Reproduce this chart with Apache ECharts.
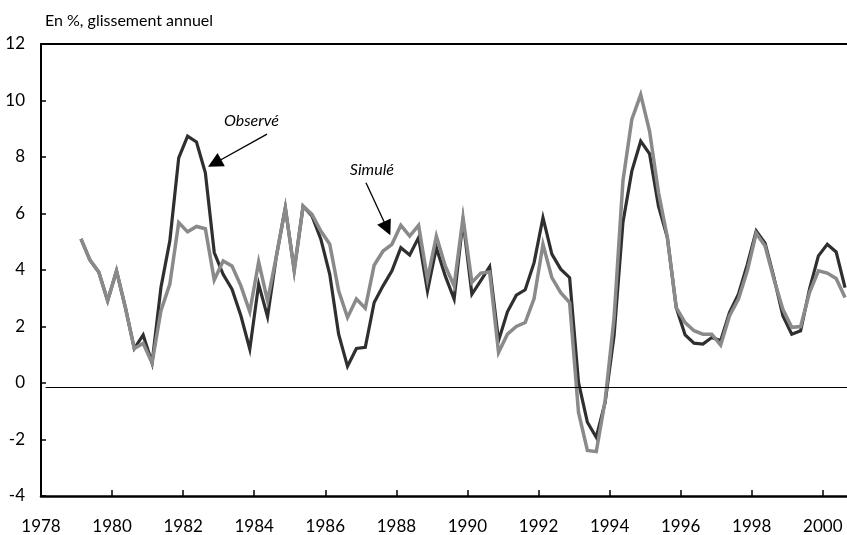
<!DOCTYPE html>
<html>
<head>
<meta charset="utf-8">
<script src="https://cdn.jsdelivr.net/npm/echarts@6/dist/echarts.min.js"></script>
<style>
  html, body { margin: 0; padding: 0; background: #fff; }
  #chart { width: 847px; height: 535px; }
</style>
</head>
<body>
<div id="chart"></div>
<script>
// Quarterly series, 1979 T1 .. 2000 T3 (each point plotted at mid-quarter)
const firstYear = 1979;
const quarterCount = 87;
const yTicks = [-4, -2, 0, 2, 4, 6, 8, 10, 12];
const xTickYears = [1978, 1980, 1982, 1984, 1986, 1988, 1990, 1992, 1994, 1996, 1998, 2000];
const unitLabel = 'En %, glissement annuel';
const seriesNames = ['Observé', 'Simulé'];
const referenceLevel = -0.15;

const observe = [
  5.10, 4.36, 3.93, 2.91, 3.97, 2.67, 1.22, 1.70, 0.71, 3.38,
  5.03, 7.97, 8.74, 8.53, 7.44, 4.62, 3.85, 3.32, 2.38, 1.20,
  3.50, 2.35, 4.50, 6.20, 4.00, 6.26, 5.91, 5.09, 3.85, 1.73,
  0.59, 1.22, 1.26, 2.85, 3.44, 3.97, 4.79, 4.53, 5.15, 3.26,
  4.79, 3.79, 2.97, 5.75, 3.14, 3.62, 4.12, 1.50, 2.52, 3.11,
  3.30, 4.26, 5.85, 4.56, 4.03, 3.73, 0.02, -1.39, -1.92, -0.68,
  1.67, 5.68, 7.50, 8.56, 8.11, 6.26, 5.15, 2.67, 1.70, 1.41,
  1.38, 1.61, 1.50, 2.50, 3.14, 4.20, 5.38, 4.95, 3.73, 2.38,
  1.73, 1.85, 3.32, 4.50, 4.91, 4.64, 3.38
];
const simule = [
  5.10, 4.36, 3.93, 2.91, 3.97, 2.67, 1.22, 1.41, 0.71, 2.56,
  3.50, 5.68, 5.35, 5.54, 5.46, 3.65, 4.32, 4.14, 3.44, 2.52,
  4.29, 2.91, 4.50, 6.21, 3.97, 6.26, 5.97, 5.38, 4.91, 3.26,
  2.32, 2.97, 2.65, 4.17, 4.67, 4.91, 5.58, 5.20, 5.58, 3.67,
  5.20, 4.14, 3.44, 5.85, 3.56, 3.89, 3.93, 1.08, 1.73, 2.00,
  2.14, 2.99, 4.91, 3.73, 3.20, 2.85, -1.04, -2.39, -2.43, -0.62,
  2.30, 7.15, 9.33, 10.21, 8.91, 6.75, 5.15, 2.67, 2.14, 1.85,
  1.73, 1.73, 1.34, 2.38, 2.97, 3.97, 5.30, 4.85, 3.67, 2.61,
  1.97, 2.00, 3.20, 3.97, 3.89, 3.70, 3.03
];

// time coordinate of each quarter (mid-quarter)
const quarterTime = [];
for (let i = 0; i < quarterCount; i++) quarterTime.push(firstYear + 0.125 + i * 0.25);

const pair = (vals) => vals.map((v, i) => [quarterTime[i], v]);

const FONT = 'Lato, "Open Sans", sans-serif';
const xMin = xTickYears[0];
const xMax = 2000.68;

const chart = echarts.init(document.getElementById('chart'), null, { renderer: 'canvas' });
chart.setOption({
  animation: false,
  backgroundColor: '#fff',
  title: {
    text: unitLabel,
    left: 40, top: 8,
    textStyle: { fontFamily: FONT, fontSize: 16, fontWeight: 'normal', color: '#000' }
  },
  grid: { left: 41, right: 0, top: 44, bottom: 38, containLabel: false },
  xAxis: [{
    type: 'value',
    min: xMin, max: xMax, interval: 2,
    splitLine: { show: false },
    axisLine: { show: true, onZero: false, lineStyle: { color: '#000', width: 2.5 } },
    axisTick: { show: true, inside: true, length: 6, lineStyle: { color: '#000', width: 1.5 } },
    axisLabel: {
      showMaxLabel: false,
      margin: 22,
      fontFamily: FONT, fontSize: 17, color: '#000',
      formatter: (v) => (xTickYears.indexOf(v) >= 0 ? String(v) : '')
    }
  }, {
    type: 'value', position: 'top',
    min: xMin, max: xMax,
    splitLine: { show: false },
    axisLine: { show: true, onZero: false, lineStyle: { color: '#000', width: 2 } },
    axisTick: { show: false }, axisLabel: { show: false }
  }],
  yAxis: {
    type: 'value',
    min: yTicks[0], max: yTicks[yTicks.length - 1], interval: 2,
    splitLine: { show: false },
    axisLine: { show: true, onZero: false, lineStyle: { color: '#000', width: 2 } },
    axisTick: { show: true, inside: true, length: 5, lineStyle: { color: '#000', width: 1.5 } },
    axisLabel: { margin: 16, fontFamily: FONT, fontSize: 17, color: '#000' }
  },
  series: [
    {
      name: seriesNames[0], type: 'line', data: pair(observe),
      showSymbol: false, symbol: 'none', z: 2,
      lineStyle: { color: '#2f2f2f', width: 3.2, join: 'miter' },
      markLine: {
        silent: true, symbol: 'none', animation: false,
        label: { show: false },
        lineStyle: { color: '#000', width: 1.2, type: 'solid' },
        data: [[{ coord: [1978.13, referenceLevel] }, { coord: [xMax, referenceLevel] }]]
      }
    },
    {
      name: seriesNames[1], type: 'line', data: pair(simule),
      showSymbol: false, symbol: 'none', z: 3,
      lineStyle: { color: '#8a8a8a', width: 3.5, join: 'miter' }
    },
    {
      name: 'annotations', type: 'line', data: [], z: 5,
      markLine: {
        silent: true, animation: false,
        symbol: ['none', 'triangle'], symbolSize: 15,
        label: { show: false },
        lineStyle: { color: '#000', width: 1.3, type: 'solid' },
        itemStyle: { color: '#000' },
        data: [
          [{ coord: [1984.36, 8.81] }, { coord: [1982.886, 7.78] }],
          [{ coord: [1987.145, 7.09] }, { coord: [1987.741, 5.47] }]
        ]
      },
      markPoint: {
        silent: true, animation: false,
        symbol: 'circle', symbolSize: 0,
        label: {
          show: true, position: 'inside',
          fontFamily: FONT, fontSize: 16, fontStyle: 'italic', color: '#000',
          formatter: (p) => p.name
        },
        data: [
          { name: seriesNames[0], coord: [1983.92, 9.29] },
          { name: seriesNames[1], coord: [1987.31, 7.56] }
        ]
      }
    }
  ]
});
</script>
</body>
</html>
